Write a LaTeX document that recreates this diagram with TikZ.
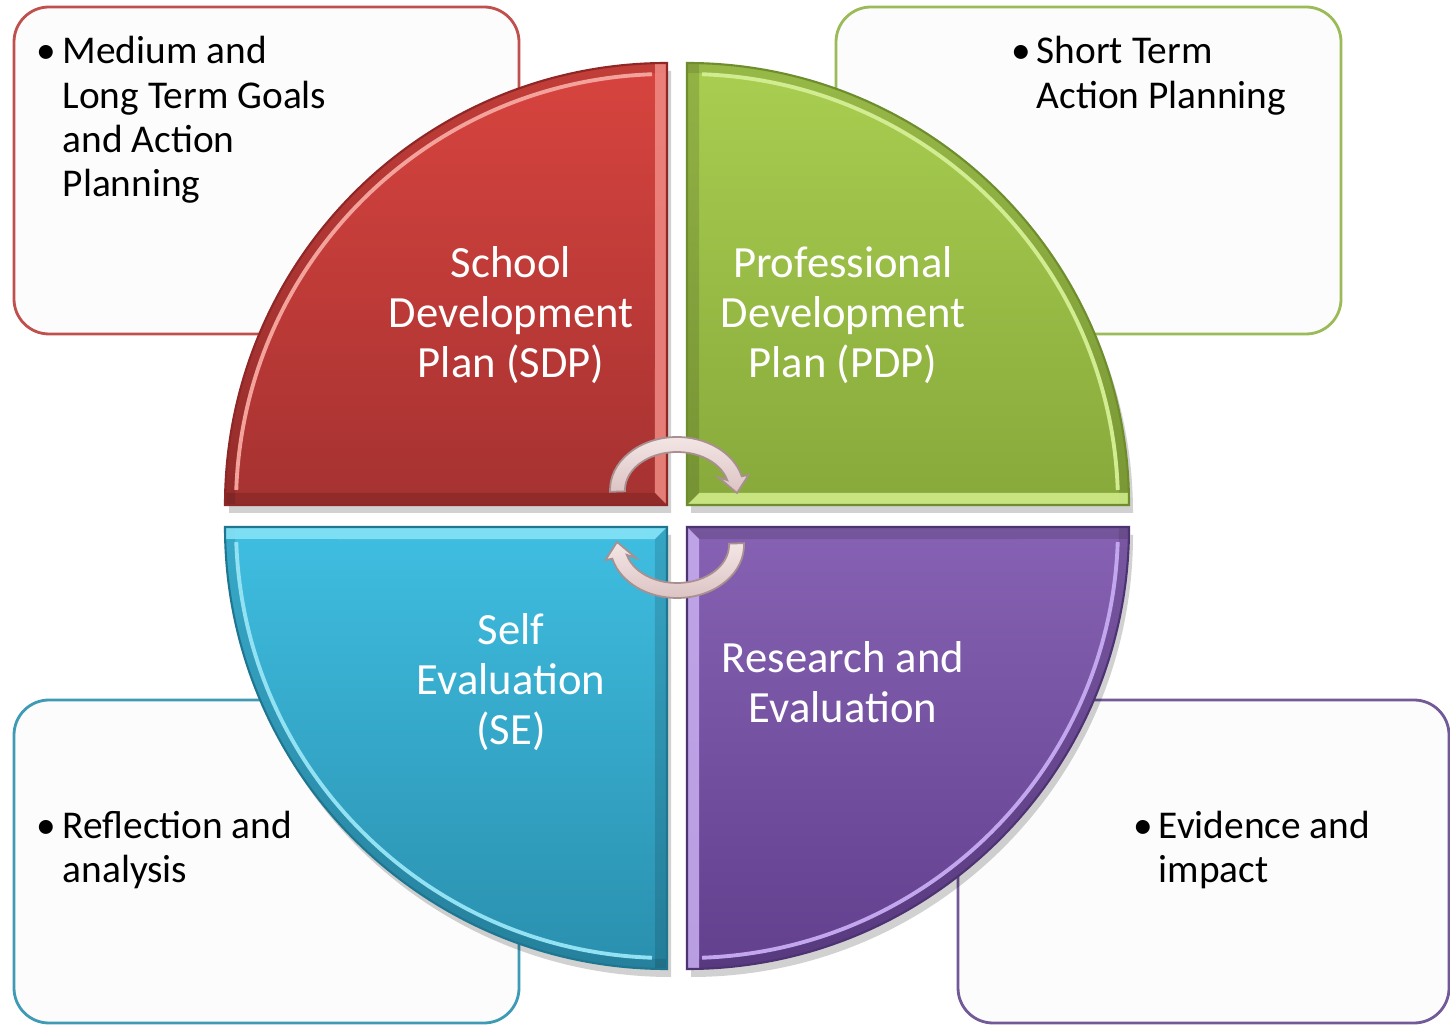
\documentclass[tikz,border=0pt]{standalone}
\usepackage{fontspec}
\setmainfont{Carlito}
\usetikzlibrary{calc}

% quadrant colours: top/bottom of the fill, light bevel, outline, rim
\definecolor{sdptop}{HTML}{D8443F}
\definecolor{sdpbot}{HTML}{A53231}
\definecolor{sdplite}{HTML}{F08A84}
\definecolor{sdpdark}{HTML}{8E2726}
\definecolor{sdprim}{HTML}{F3A39C}
\definecolor{pdptop}{HTML}{A9CE50}
\definecolor{pdpbot}{HTML}{87A93B}
\definecolor{pdplite}{HTML}{D3EF8E}
\definecolor{pdpdark}{HTML}{6E8D2C}
\definecolor{pdprim}{HTML}{D2EC92}
\definecolor{setop}{HTML}{3FBEE1}
\definecolor{sebot}{HTML}{2A8FAE}
\definecolor{selite}{HTML}{8AE5F8}
\definecolor{sedark}{HTML}{1F7690}
\definecolor{serim}{HTML}{93E2F3}
\definecolor{retop}{HTML}{8762B4}
\definecolor{rebot}{HTML}{62408E}
\definecolor{relite}{HTML}{C9AFF1}
\definecolor{redark}{HTML}{4D3371}
\definecolor{rerim}{HTML}{C2A6EE}
% outlines of the note boxes
\definecolor{sdpline}{HTML}{C0504D}
\definecolor{pdpline}{HTML}{9BBB59}
\definecolor{seline}{HTML}{3E9AB5}
\definecolor{reline}{HTML}{725A99}
\definecolor{boxfill}{HTML}{FCFCFC}
% cycle arrows
\definecolor{arrowhi}{HTML}{F4E6E6}
\definecolor{arrowfill}{HTML}{DCC3C3}
\definecolor{arrowedge}{HTML}{A98F8F}

\tikzset{
  notebox/.style={draw=#1, line width=0.8pt, rounded corners=0.35cm, fill=boxfill,
    minimum width=5.05cm, minimum height=3.27cm, inner sep=0pt},
  note/.style={anchor=base west, inner sep=0pt, font=\fontsize{11.2}{12.6}\selectfont},
  quadtext/.style={text=white, align=center, inner sep=0pt, font=\fontsize{12.7}{14.2}\selectfont},
  cyclearrow/.style={top color=arrowhi, bottom color=arrowfill, draw=arrowedge, line width=0.5pt},
}

\begin{document}
\begin{tikzpicture}
    \path[use as bounding box, fill=white] (0,0) rectangle (14.5,10.25);

    % note boxes behind the circle
    \node[notebox=sdpline] (sdpbox) at (2.665, 8.545) {};
    \node[notebox=pdpline] (pdpbox) at (10.885, 8.545) {};
    \node[notebox=seline, minimum height=3.23cm] (sebox) at (2.665, 1.635) {};
    \node[notebox=reline, minimum width=4.91cm, minimum height=3.23cm] (rebox) at (12.035, 1.635) {};

    % four quarter discs
    \foreach \cx/\cy/\a/\qtop/\qbot/\qlite/\qdark/\qrim in {
        6.67/5.20/90/sdptop/sdpbot/sdplite/sdpdark/sdprim,
        6.87/5.20/0/pdptop/pdpbot/pdplite/pdpdark/pdprim,
        6.67/4.98/180/setop/sebot/selite/sedark/serim,
        6.87/4.98/270/retop/rebot/relite/redark/rerim}
    {
        \fill[black, opacity=0.18, xshift=0.4mm, yshift=-0.8mm]
            (\cx,\cy) -- ++(\a:4.42) arc[start angle=\a, delta angle=90, radius=4.42] -- cycle;
        \begin{scope}
            \clip (\cx,\cy) -- ++(\a:4.42) arc[start angle=\a, delta angle=90, radius=4.42] -- cycle;
            \fill[top color=\qtop, bottom color=\qbot]
                (\cx,\cy) -- ++(\a:4.42) arc[start angle=\a, delta angle=90, radius=4.42] -- cycle;
            % bevel: darker band along the arc, light and dark straight edges
            \draw[black, opacity=0.10, line width=0.12cm] (\cx,\cy) ++(\a:4.38) arc[start angle=\a, delta angle=90, radius=4.38];
            \fill[\qlite, opacity=0.85] (\cx,\cy) -- ++(\a:4.5) -- ++(\a+90:0.12) -- ($(\cx,\cy)+(\a+45:0.17)$) -- cycle;
            \fill[black, opacity=0.13] (\cx,\cy) -- ++(\a+90:4.5) -- ++(\a:0.12) -- ($(\cx,\cy)+(\a+45:0.17)$) -- cycle;
            % light rim along the arc
            \draw[\qrim, line width=1.1pt] (\cx,\cy) ++(\a+2:4.31) arc[start angle=\a+2, delta angle=86, radius=4.31];
        \end{scope}
        \draw[\qdark, line width=0.6pt]
            (\cx,\cy) -- ++(\a:4.42) arc[start angle=\a, delta angle=90, radius=4.42] -- cycle;
    }

    % two curved arrows in the middle
    \foreach \ay/\rot in {5.35/0, 4.80/180}
    {
        \begin{scope}[shift={(6.77,\ay)}, rotate=\rot]
            \filldraw[cyclearrow] (182:0.67 and 0.53)
                arc[start angle=182, end angle=15, x radius=0.67, y radius=0.53]
                -- (0.715,0.15) -- (0.60,-0.03) -- (0.41,0.13)
                -- (15:0.52 and 0.38)
                arc[start angle=15, end angle=182, x radius=0.52, y radius=0.38] -- cycle;
        \end{scope}
    }

    % quadrant titles
    \node[quadtext] (sdp) at (5.11, 7.10) {School\\Development\\Plan (SDP)};
    \node[quadtext] (pdp) at (8.43, 7.10) {Professional\\Development\\Plan (PDP)};
    \node[quadtext] (se) at (5.11, 3.43) {Self\\Evaluation\\(SE)};
    \node[quadtext] (re) at (8.43, 3.43) {Research and\\Evaluation};

    % bullet notes
    \node[note] (sdpnote) at (0.36, 9.61) {\begin{tabular}[t]{@{}p{0.26cm}@{}l@{}}
        \textbullet & Medium and\\ & Long Term Goals\\ & and Action\\ & Planning\end{tabular}};
    \node[note] (pdpnote) at (10.11, 9.61) {\begin{tabular}[t]{@{}p{0.25cm}@{}l@{}}
        \textbullet & Short Term\\ & Action Planning\end{tabular}};
    \node[note] (senote) at (0.36, 1.87) {\begin{tabular}[t]{@{}p{0.26cm}@{}l@{}}
        \textbullet & Reflection and\\ & analysis\end{tabular}};
    \node[note] (renote) at (11.33, 1.87) {\begin{tabular}[t]{@{}p{0.25cm}@{}l@{}}
        \textbullet & Evidence and\\ & impact\end{tabular}};
\end{tikzpicture}
\end{document}
